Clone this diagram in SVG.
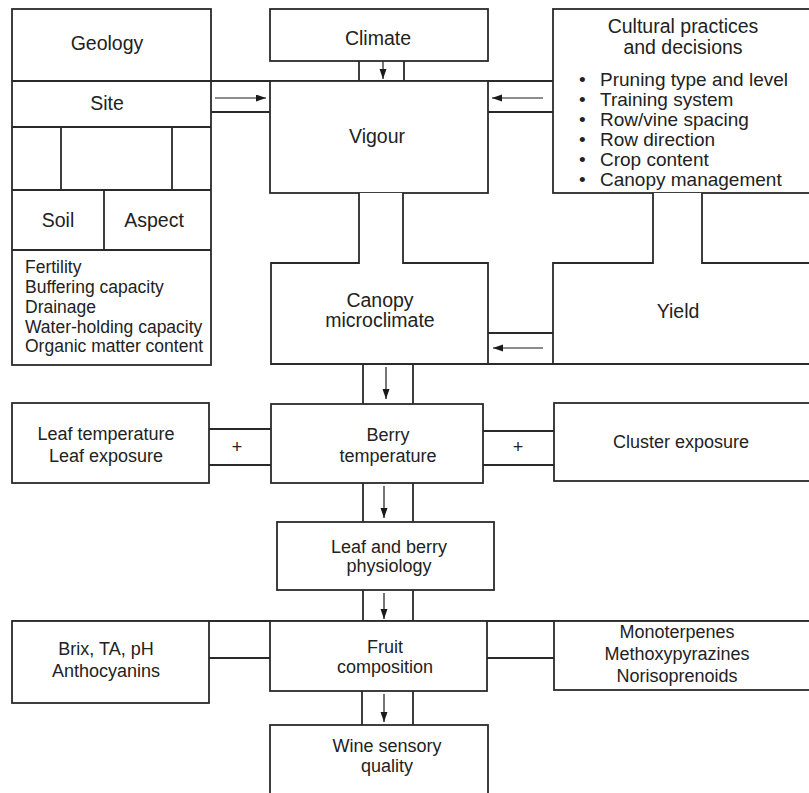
<svg xmlns="http://www.w3.org/2000/svg" width="809" height="793" viewBox="0 0 809 793">
<defs>
<style>
.b{fill:#fff;stroke:#2a2a2a;stroke-width:1.8}
.o{fill:none;stroke:#2a2a2a;stroke-width:1.8}
.c{fill:none;stroke:#2a2a2a;stroke-width:1.8}
.a{fill:none;stroke:#1a1a1a;stroke-width:1.2;marker-end:url(#ah)}
text{font-family:"Liberation Sans",Arial,sans-serif;fill:#222}
.t{font-size:19.5px;text-anchor:middle}
.s{font-size:18px;text-anchor:middle}
.l{font-size:17.5px}
.u{font-size:19px}
</style>
<marker id="ah" markerUnits="userSpaceOnUse" markerWidth="10" markerHeight="8" refX="10" refY="3.5" orient="auto">
<path d="M0,0 L10,3.5 L0,7 z" fill="#1a1a1a"/>
</marker>
</defs>
<rect width="809" height="793" fill="#fff"/>

<g id="connectors">
<line class="c" x1="211" y1="81" x2="553" y2="81"/>
<line class="c" x1="211" y1="112" x2="270" y2="112"/>
<line class="c" x1="488" y1="112" x2="553" y2="112"/>
<line class="c" x1="359" y1="61" x2="359" y2="81"/>
<line class="c" x1="404" y1="61" x2="404" y2="81"/>
<line class="c" x1="488" y1="333" x2="553" y2="333"/>
<line class="c" x1="488" y1="364" x2="553" y2="364"/>
<line class="c" x1="363" y1="364" x2="363" y2="404"/>
<line class="c" x1="413" y1="364" x2="413" y2="404"/>
<line class="c" x1="209" y1="429" x2="271" y2="429"/>
<line class="c" x1="209" y1="465" x2="271" y2="465"/>
<line class="c" x1="483" y1="431" x2="554" y2="431"/>
<line class="c" x1="483" y1="465" x2="554" y2="465"/>
<line class="c" x1="363" y1="483" x2="363" y2="522"/>
<line class="c" x1="413" y1="483" x2="413" y2="522"/>
<line class="c" x1="363" y1="590" x2="363" y2="621"/>
<line class="c" x1="413" y1="590" x2="413" y2="621"/>
<line class="c" x1="12" y1="621" x2="812" y2="621"/>
<line class="c" x1="209" y1="658" x2="270" y2="658"/>
<line class="c" x1="487" y1="658" x2="554" y2="658"/>
<line class="c" x1="362" y1="691" x2="362" y2="725"/>
<line class="c" x1="413" y1="691" x2="413" y2="725"/>
<line class="a" x1="215" y1="98" x2="266" y2="98"/>
<line class="a" x1="543" y1="98" x2="492" y2="98"/>
<line class="a" x1="383" y1="54" x2="383" y2="79"/>
<line class="a" x1="383" y1="210" x2="383" y2="244"/>
<line class="a" x1="543" y1="348" x2="493" y2="348"/>
<line class="a" x1="386" y1="367" x2="386" y2="399"/>
<line class="a" x1="384" y1="486" x2="384" y2="518"/>
<line class="a" x1="384" y1="593" x2="384" y2="619"/>
<line class="a" x1="384" y1="694" x2="384" y2="722"/>
<text class="s" x="237" y="453">+</text>
<text class="s" x="518" y="453">+</text>
</g>

<g id="site-panel">
<rect class="b" x="12" y="9" width="199" height="356"/>
<line class="o" x1="12" y1="81" x2="211" y2="81"/>
<line class="o" x1="12" y1="127" x2="211" y2="127"/>
<line class="o" x1="12" y1="190" x2="211" y2="190"/>
<line class="o" x1="12" y1="250" x2="211" y2="250"/>
<line class="o" x1="61" y1="127" x2="61" y2="190"/>
<line class="o" x1="172" y1="127" x2="172" y2="190"/>
<line class="o" x1="104" y1="190" x2="104" y2="250"/>
<text class="t" x="107" y="50">Geology</text>
<text class="t" x="107" y="110">Site</text>
<text class="t" x="58" y="227">Soil</text>
<text class="t" x="154" y="227">Aspect</text>
<text class="l" x="25" y="273">Fertility</text>
<text class="l" x="25" y="293">Buffering capacity</text>
<text class="l" x="25" y="313">Drainage</text>
<text class="l" x="25" y="333">Water-holding capacity</text>
<text class="l" x="25" y="352">Organic matter content</text>
</g>

<g id="climate">
<rect class="b" x="270" y="9" width="218" height="52"/>
<text class="t" x="378" y="45">Climate</text>
</g>

<g id="vigour">
<rect class="b" x="270" y="81" width="218" height="112"/>
<text class="t" x="377" y="143">Vigour</text>
</g>

<g id="cultural">
<rect class="b" x="553" y="9" width="262" height="184"/>
<text class="t" x="683" y="33">Cultural practices</text>
<text class="t" x="683" y="54">and decisions</text>
<text class="u" x="579" y="86">•</text>
<text class="u" x="600" y="86">Pruning type and level</text>
<text class="u" x="579" y="106">•</text>
<text class="u" x="600" y="106">Training system</text>
<text class="u" x="579" y="126">•</text>
<text class="u" x="600" y="126">Row/vine spacing</text>
<text class="u" x="579" y="146">•</text>
<text class="u" x="600" y="146">Row direction</text>
<text class="u" x="579" y="166">•</text>
<text class="u" x="600" y="166">Crop content</text>
<text class="u" x="579" y="186">•</text>
<text class="u" x="600" y="186">Canopy management</text>
</g>

<g id="canopy">
<path class="b" d="M359,193 V263 H271 V364 H488 V263 H403 V193"/>
<text class="t" x="380" y="307">Canopy</text>
<text class="t" x="380" y="327">microclimate</text>
</g>

<g id="yield">
<path class="b" d="M653,193 V263 H553 V364 H815 V263 H702 V193"/>
<text class="t" x="678" y="318">Yield</text>
</g>

<g id="leaf-temperature">
<rect class="b" x="12" y="403" width="197" height="80"/>
<text class="s" x="106" y="440">Leaf temperature</text>
<text class="s" x="106" y="462">Leaf exposure</text>
</g>

<g id="berry-temperature">
<rect class="b" x="271" y="404" width="212" height="79"/>
<text class="s" x="388" y="441">Berry</text>
<text class="s" x="388" y="462">temperature</text>
</g>

<g id="cluster-exposure">
<rect class="b" x="554" y="403" width="261" height="78"/>
<text class="s" x="681" y="448">Cluster exposure</text>
</g>

<g id="physiology">
<rect class="b" x="277" y="522" width="217" height="68"/>
<text class="s" x="389" y="553">Leaf and berry</text>
<text class="s" x="389" y="572">physiology</text>
</g>

<g id="brix">
<rect class="b" x="12" y="621" width="197" height="82"/>
<text class="s" x="106" y="655">Brix, TA, pH</text>
<text class="s" x="106" y="677">Anthocyanins</text>
</g>

<g id="fruit-composition">
<rect class="b" x="270" y="621" width="217" height="70"/>
<text class="s" x="385" y="653">Fruit</text>
<text class="s" x="385" y="673">composition</text>
</g>

<g id="aroma">
<rect class="b" x="554" y="621" width="261" height="69"/>
<text class="s" x="677" y="638">Monoterpenes</text>
<text class="s" x="677" y="660">Methoxypyrazines</text>
<text class="s" x="677" y="682">Norisoprenoids</text>
</g>

<g id="wine-quality">
<rect class="b" x="270" y="725" width="218" height="80"/>
<text class="s" x="387" y="752">Wine sensory</text>
<text class="s" x="387" y="772">quality</text>
</g>
</svg>
